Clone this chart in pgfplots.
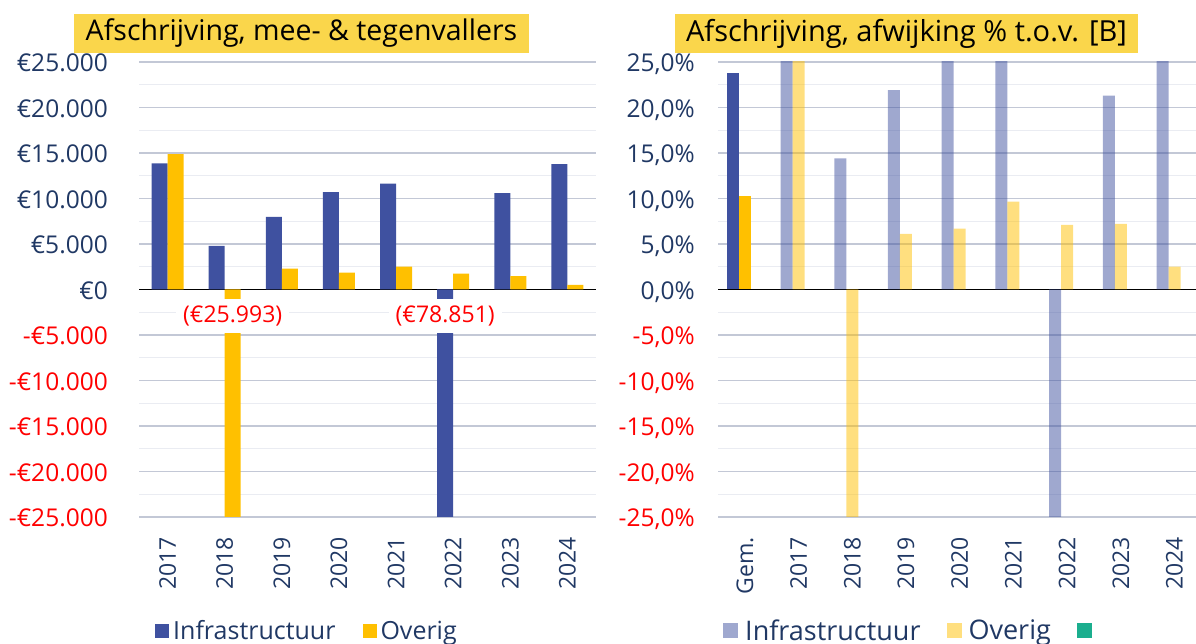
\documentclass[border=0pt]{standalone}
\usepackage{pgfplots}
\pgfplotsset{compat=1.18}
\usepackage{pgfplotstable}
\usepackage{fontspec}
\setmainfont{Open Sans}
\definecolor{infra}{HTML}{3F51A0}
\definecolor{overig}{HTML}{FFC000}
\definecolor{tealc}{HTML}{1BAE8E}
\definecolor{navy}{HTML}{203864}
\definecolor{titlebg}{HTML}{FAD64B}
\definecolor{majgrid}{HTML}{C3C8D6}
\definecolor{mingrid}{HTML}{EAECF2}
\definecolor{negred}{HTML}{FF0000}

% left panel: euro amounts
\pgfplotstableread{
x infra overig
0 13850 14880
1 4790 -25993
2 7970 2300
3 10710 1860
4 11620 2520
5 -78851 1750
6 10600 1460
7 13780 520
}\leftdata

% right panel: average (Gem.)
\pgfplotstableread{
x infra overig
0 23.8 10.3
}\gemdata

% right panel: years (values beyond the axis are clipped)
\pgfplotstableread{
x infra overig
1 31.0 28.5
2 14.4 -37.0
3 21.9 6.1
4 33.5 6.7
5 29.0 9.65
6 -41.0 7.1
7 21.3 7.2
8 36.0 2.5
}\yeardata

\pgfplotsset{
  panel/.style={
    scale only axis, anchor=south west, height=455pt,
    scaled y ticks=false, scaled x ticks=false,
    axis line style={draw=none}, major tick length=0pt, minor tick length=0pt,
    ymajorgrids, yminorgrids,
    major grid style={majgrid, line width=1.5pt},
    minor grid style={mingrid, line width=1.2pt},
    extra y ticks={0}, extra y tick labels={},
    extra y tick style={grid=major, major grid style={black, line width=1.6pt}},
    xticklabel style={rotate=90, anchor=east, inner sep=0pt, font=\fontsize{23pt}{23pt}\selectfont, text=navy},
    xticklabel shift=20pt,
    yticklabel style={anchor=base east, inner sep=0pt, yshift=-10pt, font=\fontsize{24.5pt}{24.5pt}\selectfont, text=navy},
    legend columns=-1,
  },
}

\begin{document}
\begin{tikzpicture}
\begin{axis}[panel,
  at={(139pt,127pt)}, width=457pt,
  xmin=-0.5, xmax=7.5, ymin=-25000, ymax=25000,
  ytick={-25000,-20000,-15000,-10000,-5000,0,5000,10000,15000,20000,25000},
  yticklabels={{\color{negred}-€25.000},{\color{negred}-€20.000},{\color{negred}-€15.000},{\color{negred}-€10.000},{\color{negred}-€5.000},€0,€5.000,€10.000,€15.000,€20.000,€25.000},
  minor ytick={-22500,-17500,-12500,-7500,-2500,2500,7500,12500,17500,22500},
  yticklabel shift=31pt,
  xtick={0,1,2,3,4,5,6,7},
  xticklabels={2017,2018,2019,2020,2021,2022,2023,2024},
  legend image code/.code={\fill[#1] (0pt,-7pt) rectangle (14pt,7pt);},
  legend style={at={(0.035,-0.25)}, anchor=west, draw=none, fill=none, inner sep=0pt,
    nodes={inner sep=0pt, text=navy}, font=\fontsize{25pt}{25pt}\selectfont,
    /tikz/every odd column/.append style={column sep=4pt},
    /tikz/every even column/.append style={column sep=27pt}},
]
\addplot[ybar, bar width=16pt, bar shift=-8pt, fill=infra, draw=none, forget plot] table[x=x, y=infra] {\leftdata};
\addplot[ybar, bar width=16pt, bar shift=8pt, fill=overig, draw=none, forget plot] table[x=x, y=overig] {\leftdata};
\addlegendimage{fill=infra, draw=none}
\addlegendentry{Infrastructuur}
\addlegendimage{fill=overig, draw=none}
\addlegendentry{Overig}
\node[fill=white, text=negred, inner xsep=7pt, inner ysep=0pt, minimum height=34pt, font=\fontsize{23pt}{23pt}\selectfont, xshift=8pt, yshift=-2pt] at (axis cs:1,-2741) {(€25.993)};
\node[fill=white, text=negred, inner xsep=7pt, inner ysep=0pt, minimum height=34pt, font=\fontsize{23pt}{23pt}\selectfont, xshift=-8pt, yshift=-2pt] at (axis cs:5,-2741) {(€78.851)};
\end{axis}

\begin{axis}[panel,
  at={(718pt,127pt)}, width=478pt,
  xmin=-0.5, xmax=8.4, ymin=-25, ymax=25,
  ytick={-25,-20,-15,-10,-5,0,5,10,15,20,25},
  yticklabels={{\color{negred}-25,0\%},{\color{negred}-20,0\%},{\color{negred}-15,0\%},{\color{negred}-10,0\%},{\color{negred}-5,0\%},{0,0\%},{5,0\%},{10,0\%},{15,0\%},{20,0\%},{25,0\%}},
  minor ytick={-22.5,-17.5,-12.5,-7.5,-2.5,2.5,7.5,12.5,17.5,22.5},
  yticklabel shift=23pt,
  xtick={0,1,2,3,4,5,6,7,8},
  xticklabels={Gem.,2017,2018,2019,2020,2021,2022,2023,2024},
  legend image code/.code={\fill[#1] (0pt,-7.5pt) rectangle (15pt,7.5pt);},
  legend style={at={(0.0105,-0.2495)}, anchor=west, draw=none, fill=none, inner sep=0pt,
    nodes={inner sep=0pt, text=navy}, font=\fontsize{27pt}{27pt}\selectfont,
    /tikz/every odd column/.append style={column sep=7pt},
    /tikz/every even column/.append style={column sep=26pt}},
]
\addplot[ybar, bar width=12pt, bar shift=-12pt, fill=infra, draw=none, forget plot] table[x=x, y=infra] {\gemdata};
\addplot[ybar, bar width=12pt, bar shift=0pt, fill=overig, draw=none, forget plot] table[x=x, y=overig] {\gemdata};
\addplot[ybar, bar width=12pt, bar shift=-12pt, fill=infra, fill opacity=0.5, draw=none, forget plot] table[x=x, y=infra] {\yeardata};
\addplot[ybar, bar width=12pt, bar shift=0pt, fill=overig, fill opacity=0.5, draw=none, forget plot] table[x=x, y=overig] {\yeardata};
\addlegendimage{fill=infra, fill opacity=0.5, draw=none}
\addlegendentry{Infrastructuur}
\addlegendimage{fill=overig, fill opacity=0.5, draw=none}
\addlegendentry{Overig}
\addlegendimage{fill=tealc, draw=none}
\addlegendentry{}
\end{axis}

\node[fill=titlebg, minimum width=455pt, minimum height=39pt, inner sep=0pt, text=black, font=\fontsize{28.5pt}{28.5pt}\selectfont] at (301.5pt,610.5pt) {Afschrijving, mee- \& tegenvallers};
\node[fill=titlebg, minimum width=463pt, minimum height=39pt, inner sep=0pt, text=black, font=\fontsize{29pt}{29pt}\selectfont] at (906.5pt,610.5pt) {Afschrijving, afwijking \% t.o.v. [B]};

\pgfresetboundingbox
\path[use as bounding box] (0pt,0pt) rectangle (1196pt,644pt);
\end{tikzpicture}
\end{document}
